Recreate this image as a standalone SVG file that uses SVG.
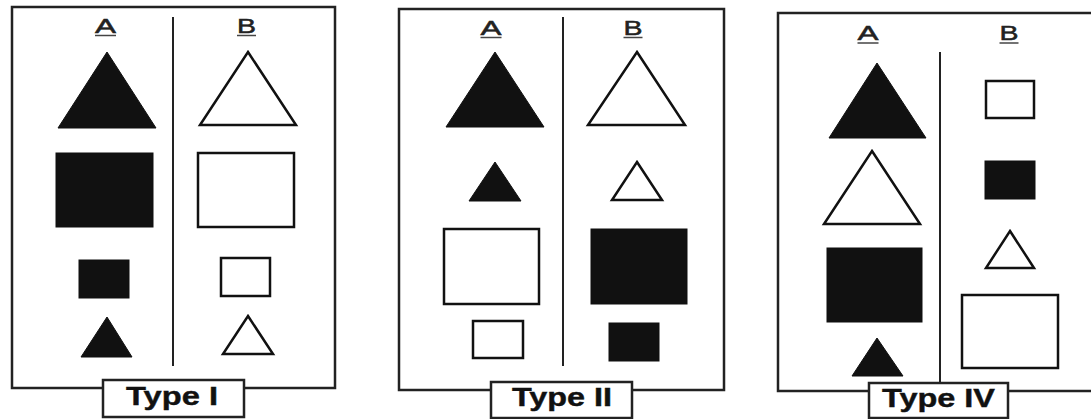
<svg xmlns="http://www.w3.org/2000/svg" width="1091" height="419" viewBox="0 0 1091 419">
<style>
.frame{fill:none;stroke:#222;stroke-width:2.5}
.div{stroke:#222;stroke-width:2}
.f{fill:#111;stroke:#111;stroke-width:1}
.o{fill:#fff;stroke:#111;stroke-width:2.5;stroke-linejoin:miter}
.lbl{font-family:"Liberation Sans",Arial,sans-serif;font-size:20px;fill:#222;stroke:#222;stroke-width:0.5;text-anchor:middle}
.ul{stroke:#444;stroke-width:1.5}
.tbox{fill:#fff;stroke:#222;stroke-width:2.5}
.tt{font-family:"Liberation Sans",Arial,sans-serif;font-weight:bold;font-size:25px;fill:#111;stroke:#111;stroke-width:0.4}
</style>
<rect width="1091" height="419" fill="#fff"/>

<g id="panel-type-i">
  <rect class="frame" x="12" y="7" width="323" height="381"/>
  <line class="div" x1="173" y1="17" x2="173" y2="366"/>
  <text class="lbl" x="105.5" y="32.5" textLength="21" lengthAdjust="spacingAndGlyphs">A</text>
  <line class="ul" x1="95" y1="35.5" x2="116" y2="35.5"/>
  <text class="lbl" x="246.5" y="32.5" textLength="19" lengthAdjust="spacingAndGlyphs">B</text>
  <line class="ul" x1="237" y1="35.5" x2="256" y2="35.5"/>
  <polygon class="f" points="107,52 156,128 58,128"/>
  <polygon class="o" points="248,52 296,125 200,125"/>
  <rect class="f" x="56" y="153" width="97" height="74"/>
  <rect class="o" x="198" y="153" width="96" height="74"/>
  <rect class="f" x="79" y="260" width="50" height="38"/>
  <rect class="o" x="221" y="258" width="49" height="38"/>
  <polygon class="f" points="107,317 132,357 81,357"/>
  <polygon class="o" points="248,316 273,354 223,354"/>
  <rect class="tbox" x="103" y="380" width="141" height="37"/>
  <text class="tt" x="126" y="405" textLength="92" lengthAdjust="spacingAndGlyphs">Type I</text>
</g>

<g id="panel-type-ii">
  <rect class="frame" x="399" y="9" width="325" height="381"/>
  <line class="div" x1="563" y1="17" x2="563" y2="366"/>
  <text class="lbl" x="491" y="34.5" textLength="21" lengthAdjust="spacingAndGlyphs">A</text>
  <line class="ul" x1="480.5" y1="37.5" x2="501.5" y2="37.5"/>
  <text class="lbl" x="633" y="34.5" textLength="19" lengthAdjust="spacingAndGlyphs">B</text>
  <line class="ul" x1="623.5" y1="37.5" x2="642.5" y2="37.5"/>
  <polygon class="f" points="495,52 544,127 446,127"/>
  <polygon class="o" points="637,52 685,125 588,125"/>
  <polygon class="f" points="495,162 521,201 469,201"/>
  <polygon class="o" points="637,162 662,200 612,200"/>
  <rect class="o" x="444" y="229" width="95" height="75"/>
  <rect class="f" x="591" y="229" width="96" height="75"/>
  <rect class="o" x="473" y="321" width="50" height="37"/>
  <rect class="f" x="609" y="323" width="50" height="38"/>
  <rect class="tbox" x="491" y="382" width="141" height="36"/>
  <text class="tt" x="512" y="406" textLength="100" lengthAdjust="spacingAndGlyphs">Type II</text>
</g>

<g id="panel-type-iv">
  <rect class="frame" x="778" y="13" width="330" height="378"/>
  <line class="div" x1="940" y1="52" x2="940" y2="383"/>
  <text class="lbl" x="868" y="40" textLength="21" lengthAdjust="spacingAndGlyphs">A</text>
  <line class="ul" x1="857.5" y1="43" x2="878.5" y2="43"/>
  <text class="lbl" x="1009" y="40" textLength="19" lengthAdjust="spacingAndGlyphs">B</text>
  <line class="ul" x1="999.5" y1="43" x2="1018.5" y2="43"/>
  <polygon class="f" points="877,63 926,138 829,138"/>
  <polygon class="o" points="872,151 920,224 824,224"/>
  <rect class="f" x="827" y="248" width="95" height="74"/>
  <polygon class="f" points="877,338 903,376 852,376"/>
  <rect class="o" x="986" y="81" width="48" height="37"/>
  <rect class="f" x="985" y="161" width="50" height="38"/>
  <polygon class="o" points="1010,231 1034,268 986,268"/>
  <rect class="o" x="962" y="295" width="96" height="73"/>
  <rect class="tbox" x="869" y="383" width="139" height="35"/>
  <text class="tt" x="882" y="407" textLength="113" lengthAdjust="spacingAndGlyphs">Type IV</text>
</g>
</svg>
